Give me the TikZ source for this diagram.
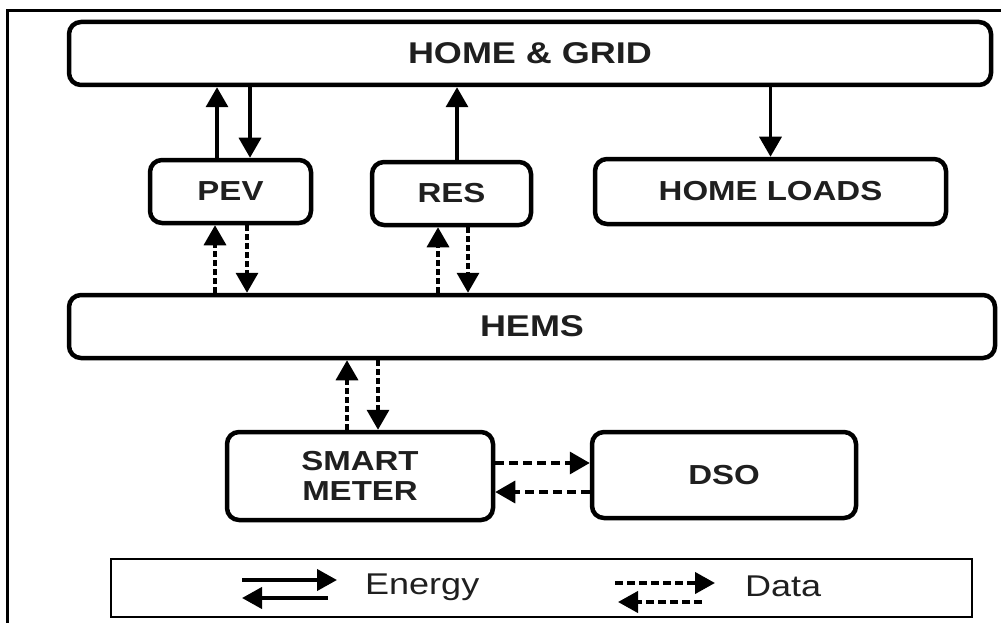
\documentclass[tikz,border=0pt]{standalone}
\usepackage{fontspec}
\setmainfont{Liberation Sans}[FakeStretch=1.2]
\usetikzlibrary{arrows.meta}
\begin{document}
\begin{tikzpicture}[x=1pt,y=-1pt,
 box/.style={draw, line width=4.5pt, rounded corners=12pt, inner sep=0pt,
   font=\fontsize{27.5}{30}\selectfont\bfseries, text=black!88, align=center},
 bigtext/.style={font=\fontsize{30}{32}\selectfont\bfseries},
 earrow/.style={line width=3.5pt, -{Triangle[length=20pt,width=22pt]}},
 darrow/.style={line width=3.5pt, dash pattern=on 6pt off 3pt, -{Triangle[length=20pt,width=22pt]}},
 hdarrow/.style={line width=3.5pt, dash pattern=on 9pt off 5pt, -{Triangle[length=20pt,width=22pt]}},
 legdash/.style={line width=4pt, dash pattern=on 8pt off 4pt, -{Triangle[length=20pt,width=21pt]}},
 legsolid/.style={line width=4pt, -{Triangle[length=20pt,width=21pt]}},
 lbl/.style={font=\fontsize{30}{32}\selectfont, text=black!88, inner sep=0pt, anchor=base west}]
\useasboundingbox (0,0) rectangle (1001,623);
\fill[white] (0,0) rectangle (1001,623);
\draw[line width=3pt] (7,640) -- (7,11) -- (1010,11);

\node[box, bigtext, minimum width=922pt, minimum height=63pt] (hg) at (530,53.5) {HOME \& GRID};
\node[box, minimum width=161pt, minimum height=63pt] (pev) at (230.5,191.5) {PEV};
\node[box, minimum width=159pt, minimum height=63pt] (res) at (451.5,193.5) {RES};
\node[box, minimum width=351pt, minimum height=65pt] (hl) at (770.5,191.5) {HOME LOADS};
\node[box, bigtext, minimum width=926pt, minimum height=63pt] (hems) at (532,326.5) {HEMS};
\node[box, minimum width=266pt, minimum height=88pt] (sm) at (360,476) {SMART\\METER};
\node[box, minimum width=264pt, minimum height=86pt] (dso) at (724,475) {DSO};
\node[draw, line width=2pt, minimum width=861pt, minimum height=58pt, inner sep=0pt] (leg) at (541.5,588) {};

% energy arrows
\coordinate (a1) at ([xshift=-13.5pt]pev.north);
\draw[earrow] (a1) -- (a1 |- hg.south);
\coordinate (a2) at ([xshift=19.5pt]pev.north);
\draw[earrow] (a2 |- hg.south) -- (a2);
\coordinate (a3) at ([xshift=5.5pt]res.north);
\draw[earrow] (a3) -- (a3 |- hg.south);
\coordinate (a4) at (hl.north);
\draw[earrow] (a4 |- hg.south) -- (a4);

% data arrows
\coordinate (d1) at ([xshift=-15.5pt]pev.south);
\draw[darrow] (d1 |- hems.north) -- (d1);
\coordinate (d2) at ([xshift=16.5pt]pev.south);
\draw[darrow] (d2) -- (d2 |- hems.north);
\coordinate (d3) at ([xshift=-13.5pt]res.south);
\draw[darrow] (d3 |- hems.north) -- (d3);
\coordinate (d4) at ([xshift=16.5pt]res.south);
\draw[darrow] (d4) -- (d4 |- hems.north);
\coordinate (d5) at ([xshift=-13pt]sm.north);
\draw[darrow] (d5) -- (d5 |- hems.south);
\coordinate (d6) at ([xshift=18pt]sm.north);
\draw[darrow] (d6 |- hems.south) -- (d6);
\coordinate (d7) at ([yshift=13pt]sm.east);
\draw[hdarrow] (d7) -- (dso.west |- d7);
\coordinate (d8) at ([yshift=-16pt]sm.east);
\draw[hdarrow] (dso.west |- d8) -- (d8);

% legend
\coordinate (le1) at (242,580);
\coordinate (le2) at (337,580);
\coordinate (le3) at (328,598);
\coordinate (le4) at (242,598);
\draw[legsolid] (le1) -- (le2);
\draw[legsolid] (le3) -- (le4);
\node[lbl] (en) at (365,594) {Energy};
\coordinate (ld1) at (615,583);
\coordinate (ld2) at (715,583);
\coordinate (ld3) at (702,602);
\coordinate (ld4) at (618,602);
\draw[legdash] (ld1) -- (ld2);
\draw[legdash] (ld3) -- (ld4);
\node[lbl] (da) at (745,596) {Data};
\end{tikzpicture}
\end{document}
